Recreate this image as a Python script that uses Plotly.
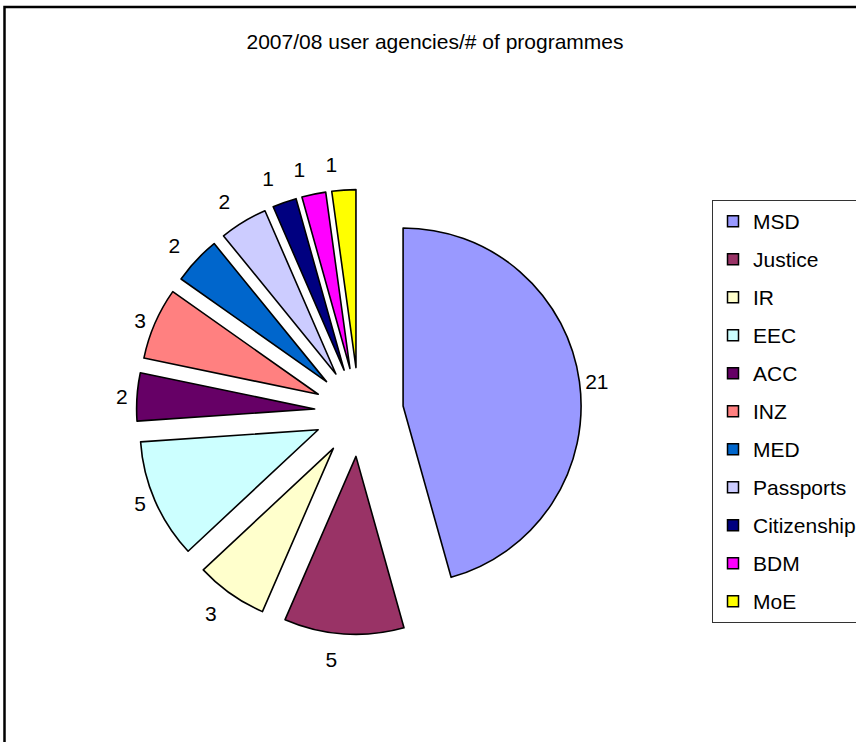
import plotly.graph_objects as go

# Programmes per user agency, 2007/08
agencies = ["MSD", "Justice", "IR", "EEC", "ACC", "INZ", "MED",
            "Passports", "Citizenship", "BDM", "MoE"]
programmes = [21, 5, 3, 5, 2, 3, 2, 2, 1, 1, 1]
colors = ["#9999FF", "#993366", "#FFFFCC", "#CCFFFF", "#660066", "#FF8080",
          "#0066CC", "#CCCCFF", "#000080", "#FF00FF", "#FFFF00"]

W, H = 856, 742
FONT = "Liberation Sans, Arial, sans-serif"

# pie centre and radius (pixels); every slice pulled by the same fraction
cx, cy = 359, 412
radius = 178
pull = 0.25

# value labels sit on transparent copies of the pie; each copy has its own
# label distance (pull) and keeps neighbouring small-slice labels apart
label_layers = [
    (0.25, ["MSD"]),
    (0.27, ["EEC", "ACC", "INZ"]),
    (0.33, ["Justice", "IR", "Passports", "MoE"]),
    (0.33, ["MED", "BDM"]),
    (0.33, ["Citizenship"]),
]


def px_x(px):
    return px / W


def px_y(py):
    return 1 - py / H


def domain_for(p):
    half = radius * (1 + p)
    return dict(x=[px_x(cx - half), px_x(cx + half)],
                y=[px_y(cy + half), px_y(cy - half)])


fig = go.Figure()

# the visible pie
fig.add_trace(go.Pie(
    labels=agencies,
    values=programmes,
    sort=False,
    direction="clockwise",
    rotation=0,
    pull=pull,
    marker=dict(colors=colors, line=dict(color="black", width=1.6)),
    textposition="none",
    showlegend=False,
    hoverinfo="label+value",
    domain=domain_for(pull),
))

# value labels
for p, layer in label_layers:
    fig.add_trace(go.Pie(
        labels=agencies,
        values=programmes,
        sort=False,
        direction="clockwise",
        rotation=0,
        pull=p,
        marker=dict(colors=["rgba(0,0,0,0)"] * len(agencies),
                    line=dict(color="rgba(0,0,0,0)", width=0)),
        texttemplate="%{value}",
        textposition=["outside" if a in layer else "none" for a in agencies],
        textfont=dict(family=FONT, size=21, color="black"),
        showlegend=False,
        hoverinfo="skip",
        domain=domain_for(p),
    ))

# legend entries, one group per agency so they can be spaced apart
for name, col in zip(agencies, colors):
    fig.add_trace(go.Scatter(
        x=[None], y=[None], mode="markers", name=name, legendgroup=name,
        marker=dict(symbol="square", size=11, color=col,
                    line=dict(color="black", width=1.5)),
        hoverinfo="skip",
    ))

fig.update_layout(
    width=W, height=H,
    margin=dict(l=0, r=0, t=0, b=0, autoexpand=False),
    paper_bgcolor="white",
    plot_bgcolor="white",
    font=dict(family=FONT, color="black"),
    title=dict(text="2007/08 user agencies/# of programmes",
               x=px_x(435), y=px_y(42), xanchor="center", yanchor="middle",
               font=dict(family=FONT, size=21, color="black")),
    xaxis=dict(visible=False),
    yaxis=dict(visible=False),
    legend=dict(
        x=px_x(712), y=px_y(200), xanchor="left", yanchor="top",
        bordercolor="#333333", borderwidth=1, bgcolor="white",
        font=dict(family=FONT, size=21, color="black"),
        tracegroupgap=7.7, traceorder="grouped",
    ),
    shapes=[dict(type="rect", xref="paper", yref="paper",
                 x0=px_x(4.5), y0=px_y(7), x1=1.05, y1=-0.05,
                 line=dict(color="black", width=2.5))],
)

fig.write_html("out.html")
